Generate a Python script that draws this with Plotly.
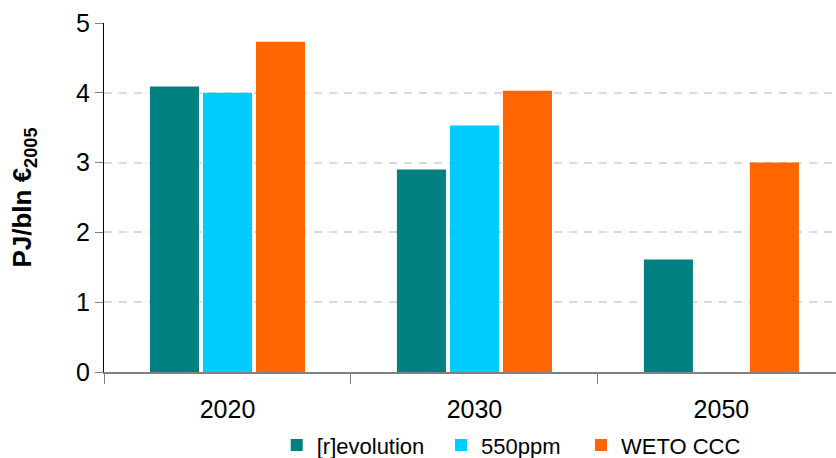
import plotly.graph_objects as go

years = ["2020", "2030", "2050"]
revolution = [4.09, 2.90, 1.61]
ppm550 = [4.00, 3.53, None]
weto_ccc = [4.73, 4.03, 3.00]

series = [
    ("[r]evolution", revolution, "#008080", "legend", 0.331),
    ("550ppm", ppm550, "#00CCFF", "legend2", 0.5275),
    ("WETO CCC", weto_ccc, "#FF6600", "legend3", 0.695),
]

fig = go.Figure()
legend_layouts = {}
for name, vals, color, leg, lx in series:
    fig.add_trace(go.Bar(name=name, x=years, y=vals, marker_color=color,
                         marker_line_width=0, legend=leg))
    legend_layouts[leg] = dict(
        orientation="h", xref="container", yref="container",
        x=lx, xanchor="left", y=0.028, yanchor="middle",
        font=dict(size=22), itemwidth=30, bgcolor="rgba(0,0,0,0)",
    )

fig.update_layout(
    width=836, height=458,
    margin=dict(l=104, r=0, t=23, b=86, autoexpand=False),
    paper_bgcolor="white", plot_bgcolor="white",
    font=dict(family="Liberation Sans, Arial, sans-serif", size=25, color="black"),
    barmode="group", bargap=0.356, bargroupgap=0.075,
    showlegend=True,
    **legend_layouts,
)
fig.update_xaxes(
    type="category", range=[-0.5, 2.464],
    showline=True, linecolor="#808080", linewidth=2,
    ticks="outside", tickson="boundaries", ticklen=10, tickcolor="#808080",
    tickwidth=1, showgrid=False, tickfont=dict(size=25), ticklabelstandoff=14,
)
fig.update_yaxes(
    range=[0, 5.0], dtick=1, tick0=0,
    showline=True, linecolor="black", linewidth=1,
    ticks="outside", ticklen=8, tickcolor="#808080",
    showgrid=True, gridcolor="#DADADA", griddash="8px,7px", gridwidth=2,
    zeroline=False, tickfont=dict(size=25),
    title=dict(text="<b>PJ/bln €<sub>2005</sub></b>", font=dict(size=26), standoff=36),
)

fig.write_html("out.html")
